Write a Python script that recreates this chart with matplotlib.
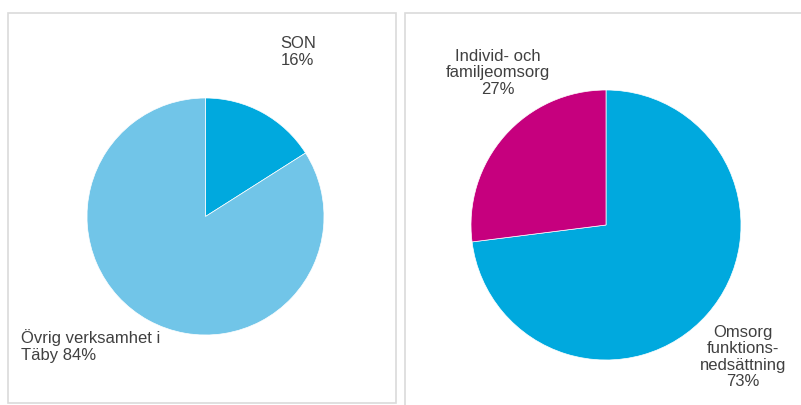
import matplotlib.pyplot as plt
from matplotlib.patches import Rectangle

plt.rcParams['font.family'] = ['Liberation Sans', 'DejaVu Sans']

left_labels = ['SON\n16%', 'Övrig verksamhet i\nTäby 84%']
left_values = [16, 84]
left_colors = ['#00A9DE', '#71C5E8']

right_labels = ['Omsorg\nfunktions-\nnedsättning\n73%', 'Individ- och\nfamiljeomsorg\n27%']
right_values = [73, 27]
right_colors = ['#00A9DE', '#C6007E']

W, H = 801, 405
fig = plt.figure(figsize=(W / 100, H / 100), dpi=100)

# panel frames (pixel coords -> figure coords)
def frame(x0, y0, x1, y1):
    fig.patches.append(Rectangle((x0 / W, 1 - y1 / H), (x1 - x0) / W, (y1 - y0) / H,
                                 transform=fig.transFigure, fill=False,
                                 edgecolor='#DADADA', linewidth=1.2))

frame(8, 13, 396, 403)
frame(405, 13, 820, 420)

def pie_axes(cx, cy, r):
    ax = fig.add_axes([(cx - r) / W, 1 - (cy + r) / H, 2 * r / W, 2 * r / H])
    ax.set_xlim(-1, 1)
    ax.set_ylim(-1, 1)
    ax.axis('off')
    return ax

txt = dict(fontsize=12, color='#404040', linespacing=1.12, clip_on=False)

ax1 = pie_axes(205.5, 216.5, 118.5)
ax1.pie(left_values, colors=left_colors, startangle=90, counterclock=False,
        radius=1, wedgeprops=dict(edgecolor='white', linewidth=0.5))
ax1.set_xlim(-1, 1)
ax1.set_ylim(-1, 1)
ax1.text(0.78, 1.39, left_labels[0], ha='center', va='center', **txt)
ax1.text(-1.557, -1.093, left_labels[1], ha='left', va='center', **txt)

ax2 = pie_axes(606, 225, 135)
ax2.pie(right_values, colors=right_colors, startangle=90, counterclock=False,
        radius=1, wedgeprops=dict(edgecolor='white', linewidth=0.5))
ax2.set_xlim(-1, 1)
ax2.set_ylim(-1, 1)
ax2.text(1.015, -0.978, right_labels[0], ha='center', va='center', **txt)
ax2.text(-0.8, 1.126, right_labels[1], ha='center', va='center', **txt)

fig.savefig('out.png', dpi=100, facecolor='white')
